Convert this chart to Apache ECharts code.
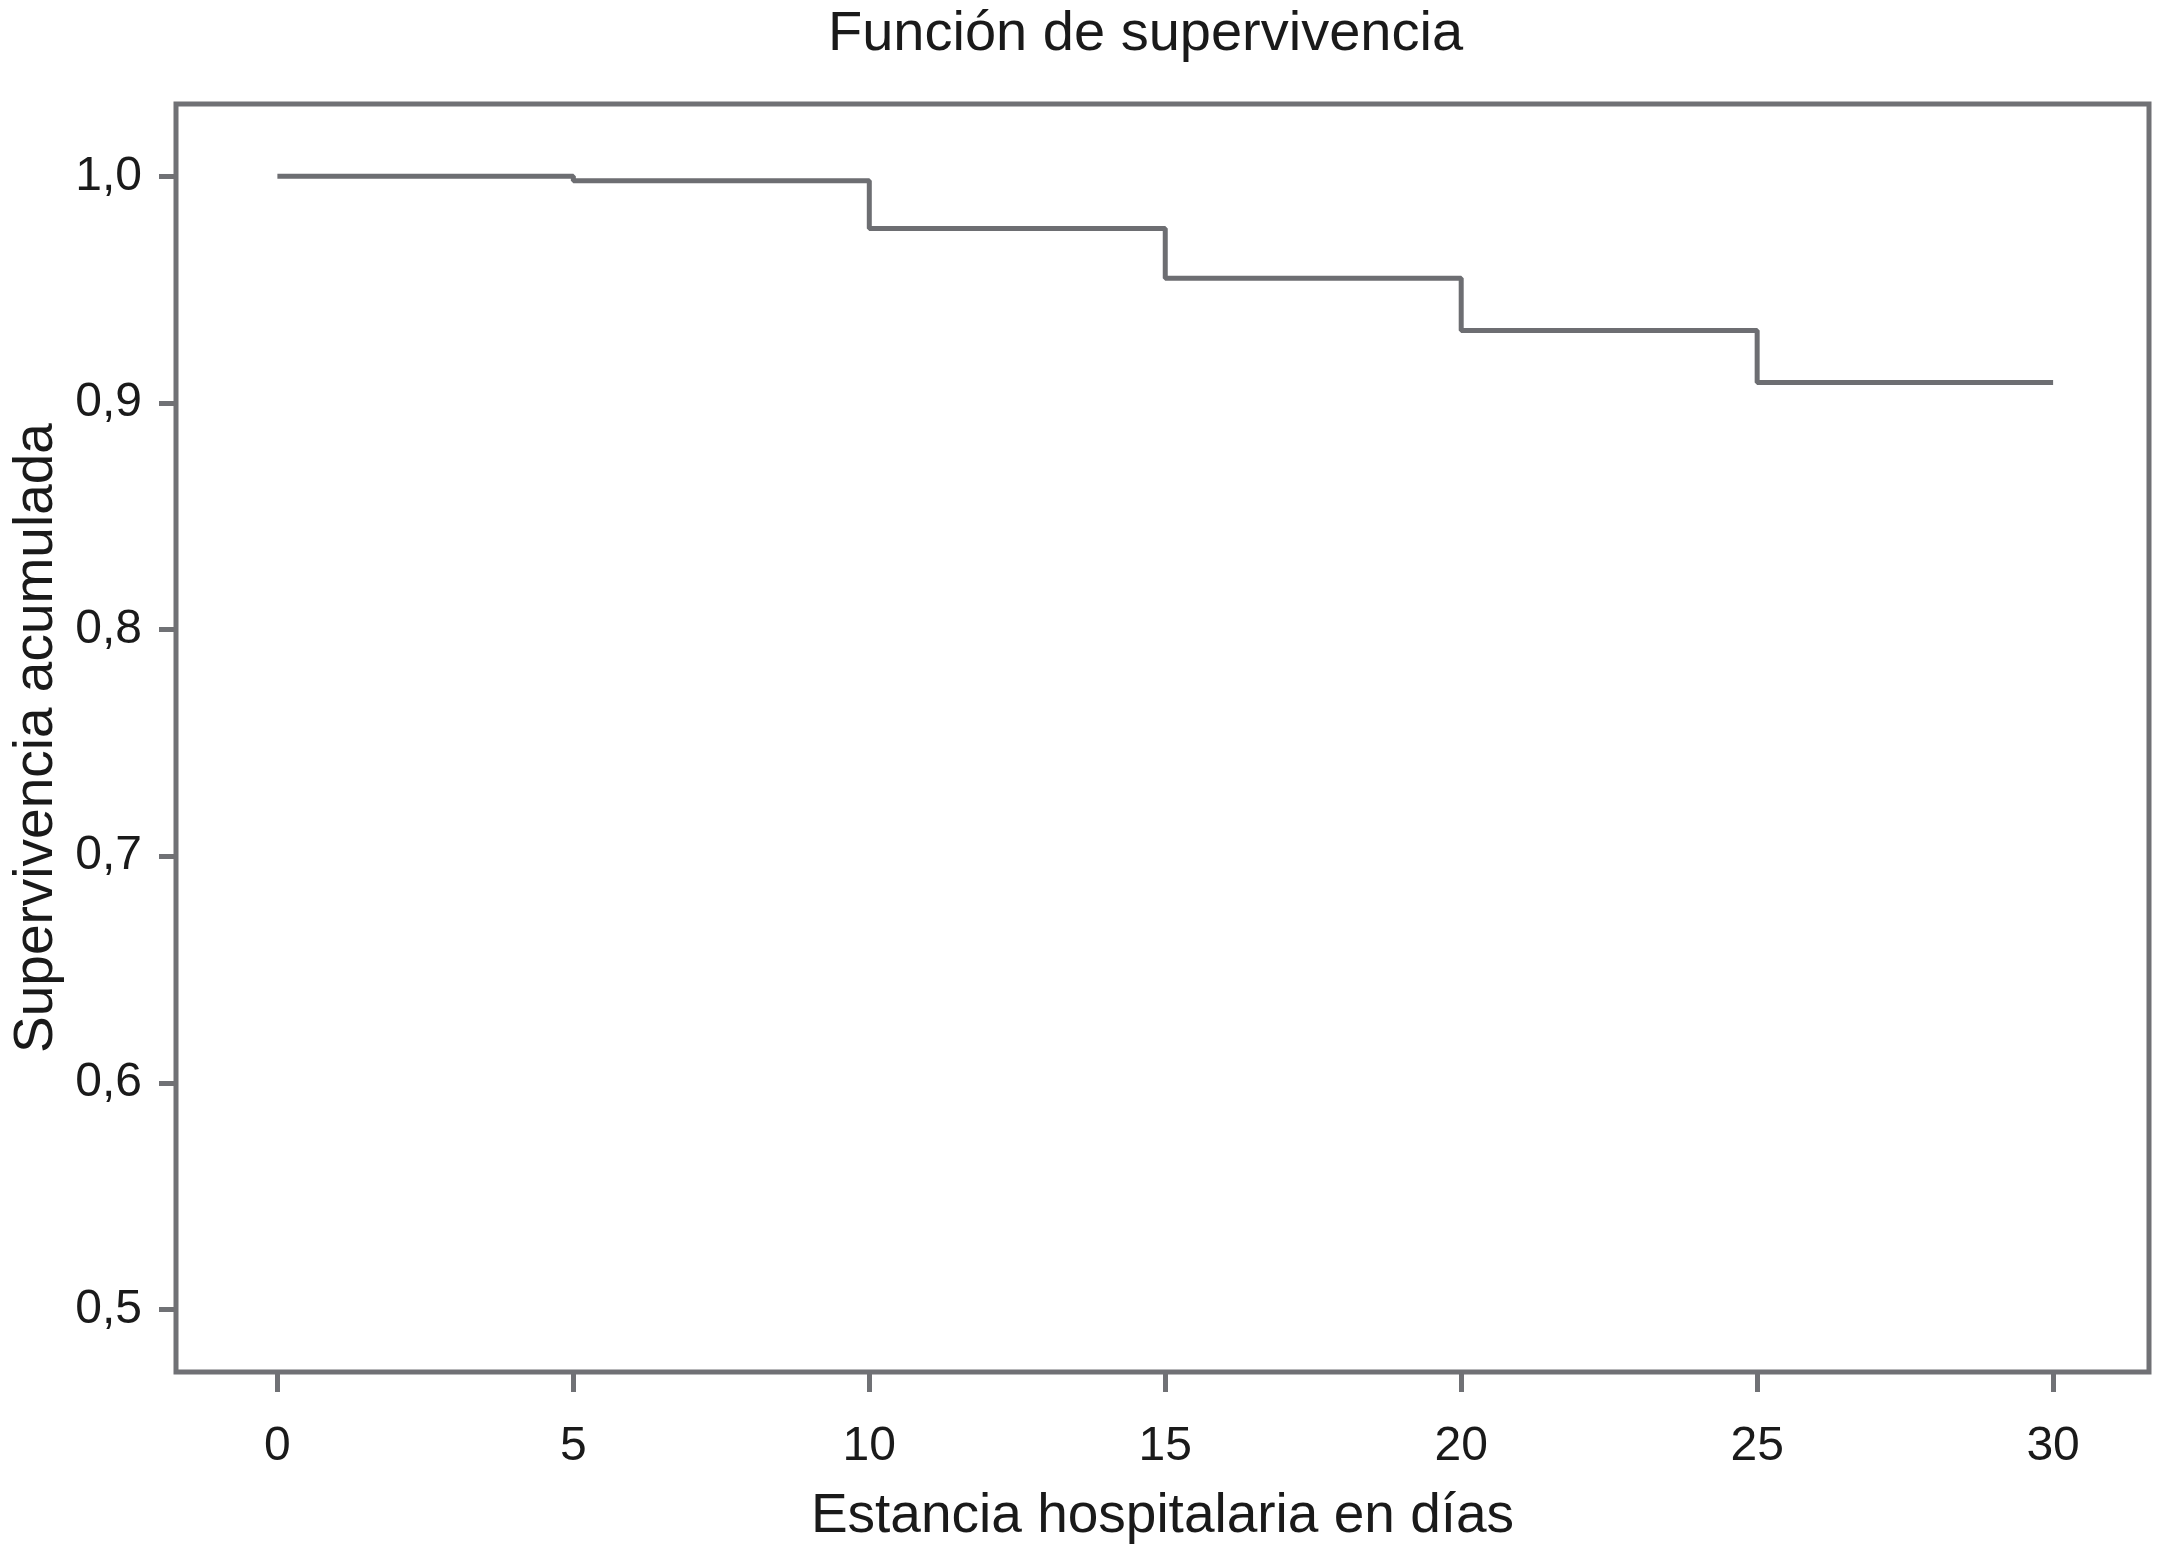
<!DOCTYPE html>
<html>
<head>
<meta charset="utf-8">
<script src="https://cdn.jsdelivr.net/npm/echarts@6/dist/echarts.min.js"></script>
<style>
html,body{margin:0;padding:0;background:#fff;}
#chart{width:2177px;height:1555px;}
</style>
</head>
<body>
<div id="chart"></div>
<script>
// Data
const days = [0, 5, 10, 15, 20, 25, 30];
const survival = [1.0, 0.998, 0.977, 0.955, 0.932, 0.909, 0.909];
const xTickValues = [0, 5, 10, 15, 20, 25, 30];
const yTickValues = [0.5, 0.6, 0.7, 0.8, 0.9, 1.0];
const yTickLabels = ['0,5', '0,6', '0,7', '0,8', '0,9', '1,0'];
const titleText = 'Función de supervivencia';
const xName = 'Estancia hospitalaria en días';
const yName = 'Supervivencia acumulada';

const points = days.map((d, i) => [d, survival[i]]);
const frameColor = '#707175';
const textColor = '#1a1a1a';
const font = 'Liberation Sans, Arial, sans-serif';

const chart = echarts.init(document.getElementById('chart'));
chart.setOption({
  backgroundColor: '#ffffff',
  animation: false,
  title: {
    text: titleText,
    left: 823,
    top: 2,
    textStyle: { fontFamily: font, fontSize: 56, fontWeight: 'normal', color: textColor }
  },
  grid: {
    left: 176, top: 104, right: 28, bottom: 183,
    show: true, borderColor: frameColor, borderWidth: 5, backgroundColor: '#ffffff'
  },
  xAxis: {
    type: 'value',
    min: -1.713, max: 31.62,
    name: xName,
    nameLocation: 'middle',
    nameGap: 117,
    nameTextStyle: { fontFamily: font, fontSize: 55, color: textColor },
    axisLine: { show: false, onZero: false },
    splitLine: { show: false },
    axisTick: { show: true, customValues: xTickValues, length: 20, lineStyle: { color: frameColor, width: 5 } },
    axisLabel: { customValues: xTickValues, margin: 51, fontFamily: font, fontSize: 48, color: textColor }
  },
  yAxis: {
    type: 'value',
    min: 0.4724, max: 1.0319,
    name: yName,
    nameLocation: 'middle',
    nameGap: 108,
    nameRotate: 90,
    nameTextStyle: { fontFamily: font, fontSize: 55, color: textColor },
    axisLine: { show: false, onZero: false },
    splitLine: { show: false },
    axisTick: { show: true, customValues: yTickValues, length: 17, lineStyle: { color: frameColor, width: 5 } },
    axisLabel: {
      customValues: yTickValues, margin: 34, fontFamily: font, fontSize: 48, color: textColor,
      formatter: function (v) {
        const i = yTickValues.findIndex(t => Math.abs(t - v) < 1e-6);
        return i >= 0 ? yTickLabels[i] : '';
      }
    }
  },
  series: [{
    type: 'line',
    step: 'end',
    data: points,
    symbol: 'none',
    lineStyle: { color: '#6d6e72', width: 5 }
  }]
});
</script>
</body>
</html>
